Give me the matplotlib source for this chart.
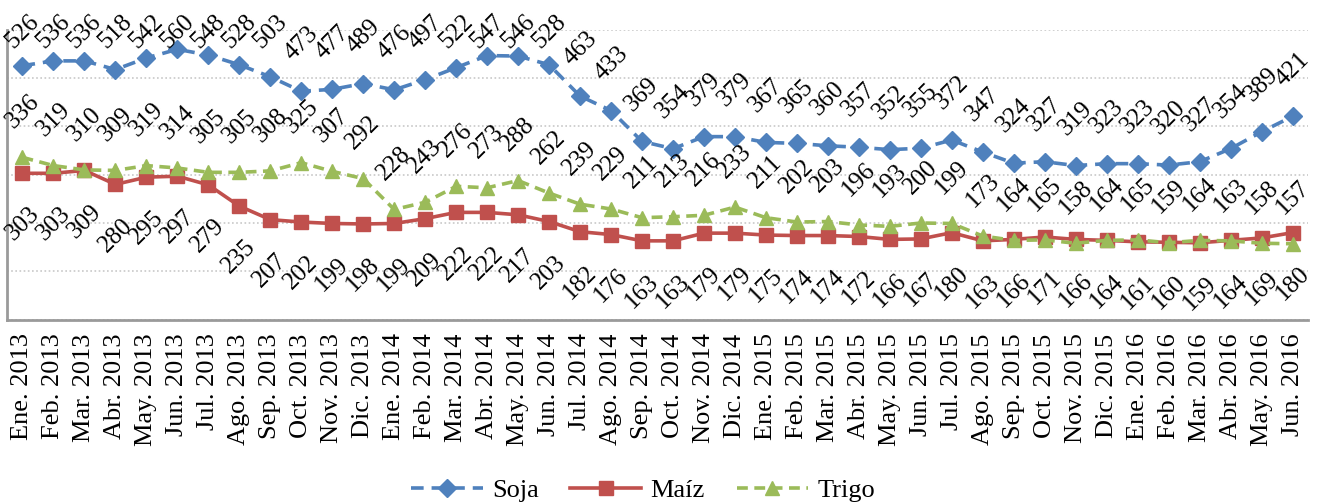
import matplotlib
matplotlib.use("Agg")
import matplotlib.pyplot as plt

months = ["Ene.", "Feb.", "Mar.", "Abr.", "May.", "Jun.", "Jul.", "Ago.",
          "Sep.", "Oct.", "Nov.", "Dic."]
labels = [f"{m} {y}" for y in (2013, 2014, 2015) for m in months]
labels += [f"{m} 2016" for m in months[:6]]

soja = [526, 536, 536, 518, 542, 560, 548, 528, 503, 473, 477, 489,
        476, 497, 522, 547, 546, 528, 463, 433, 369, 354, 379, 379,
        367, 365, 360, 357, 352, 355, 372, 347, 324, 327, 319, 323,
        323, 320, 327, 354, 389, 421]
maiz = [303, 303, 309, 280, 295, 297, 279, 235, 207, 202, 199, 198,
        199, 209, 222, 222, 217, 203, 182, 176, 163, 163, 179, 179,
        175, 174, 174, 172, 166, 167, 180, 163, 166, 171, 166, 164,
        161, 160, 159, 164, 169, 180]
trigo = [336, 319, 310, 309, 319, 314, 305, 305, 308, 325, 307, 292,
         228, 243, 276, 273, 288, 262, 239, 229, 211, 213, 216, 233,
         211, 202, 203, 196, 193, 200, 199, 173, 164, 165, 158, 164,
         165, 159, 164, 163, 158, 157]

BLUE, RED, GREEN = "#4F81BD", "#C0504D", "#9BBB59"
plt.rcParams["font.family"] = ["Liberation Serif", "DejaVu Serif"]

W, H = 1326, 504
fig = plt.figure(figsize=(W / 100, H / 100), dpi=100)
ax = fig.add_axes([7 / W, 1 - 319.5 / H, (1308 - 7) / W, (319.5 - 30) / H])

x = list(range(len(labels)))
ax.plot(x, soja, color=BLUE, lw=2.6, ls=(0, (3.5, 2.2)), marker="D", ms=9.5,
        label="Soja")
ax.plot(x, maiz, color=RED, lw=2.6, ls="-", marker="s", ms=10.5, label="Maíz")
ax.plot(x, trigo, color=GREEN, lw=2.6, ls=(0, (3, 1.8)), marker="^", ms=10.5,
        label="Trigo")

lab_kw = dict(rotation=45, ha="center", va="center", rotation_mode="anchor",
              fontsize=18)
for i in x:
    ax.text(i, min(soja[i] + 98, 596), str(soja[i]), **lab_kw)
    ax.text(i, trigo[i] + 95, str(trigo[i]), **lab_kw)
    ax.text(i, maiz[i] - 105, str(maiz[i]), **lab_kw)

ax.set_xlim(-0.5, len(labels) - 0.5)
ax.set_ylim(0, 600)
ax.set_yticks(range(0, 700, 100))
ax.set_yticklabels([])
ax.yaxis.grid(True, color="#C8C8C8", ls=(0, (1, 1.5)), lw=1.2)
ax.set_axisbelow(True)
ax.set_xticks(x)
ax.set_xticklabels(labels, rotation=90, fontsize=19)
ax.tick_params(length=0, pad=10)
ax.tick_params(axis="y", length=0)
for s in ("top", "right"):
    ax.spines[s].set_visible(False)
for s in ("left", "bottom"):
    ax.spines[s].set_color("#9A9A9A")
    ax.spines[s].set_linewidth(2)

fig.legend(loc="center", bbox_to_anchor=(0.485, 14 / H), ncol=3, frameon=False,
           fontsize=19, handlelength=2.7, handletextpad=0.35, columnspacing=1.2)

fig.savefig("out.png", dpi=100)
